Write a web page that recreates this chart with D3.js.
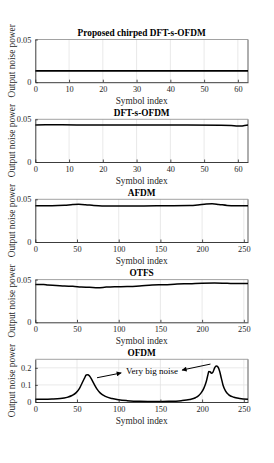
<!DOCTYPE html>
<html><head><meta charset="utf-8">
<script src="https://cdn.jsdelivr.net/npm/d3@7"></script>
<style>body{margin:0;background:#fff}svg{display:block}text{font-family:"Liberation Serif","Times New Roman",serif}</style>
</head><body>
<script>
const titles = ["Proposed chirped DFT-s-OFDM", "DFT-s-OFDM", "AFDM", "OTFS", "OFDM"];
const xMax = [63, 63, 255, 255, 255];
const yMax = [0.05, 0.05, 0.05, 0.05, 0.25];
const xTicks = [[0,10,20,30,40,50,60],[0,10,20,30,40,50,60],[0,50,100,150,200,250],[0,50,100,150,200,250],[0,50,100,150,200,250]];
const yTicks = [[0,0.05],[0,0.05],[0,0.05],[0,0.05],[0,0.1,0.2]];
const yTickLabels = [["0","0.05"],["0","0.05"],["0","0.05"],["0","0.05"],["0","0.1","0.2"]];

const chirpX = [0, 63];
const chirpY = [0.0132, 0.0132];
const dftX = [0, 3, 8, 15, 25, 35, 45, 55, 58, 60, 61, 62, 63];
const dftY = [0.0433, 0.0436, 0.0435, 0.0433, 0.0433, 0.0432, 0.0432, 0.0431, 0.0428, 0.0421, 0.0422, 0.0427, 0.0432];
const afdmX = [0, 20, 35, 45, 52, 60, 70, 80, 100, 130, 160, 185, 195, 205, 212, 220, 230, 240, 255];
const afdmY = [0.0425, 0.0425, 0.0430, 0.0438, 0.0441, 0.0437, 0.0427, 0.0422, 0.0422, 0.0423, 0.0424, 0.0426, 0.0433, 0.0445, 0.0448, 0.0440, 0.0428, 0.0424, 0.0424];
const otfsX = [0, 10, 15, 25, 35, 45, 55, 65, 75, 85, 95, 110, 125, 140, 155, 170, 185, 200, 215, 230, 245, 255];
const otfsY = [0.0444, 0.0443, 0.0436, 0.0432, 0.0424, 0.0422, 0.0413, 0.0410, 0.0405, 0.0412, 0.0416, 0.0418, 0.0425, 0.0436, 0.0440, 0.0448, 0.0452, 0.0458, 0.0460, 0.0456, 0.0453, 0.0455];
const ofdmX = [0, 10, 20, 30, 38, 44, 49, 53, 56, 59, 61, 63, 65, 68, 71, 74, 78, 84, 92, 100, 110, 125, 145, 160, 175, 185, 192, 196, 199, 202, 205, 207, 208, 210, 211, 213, 215, 217, 219, 221, 223, 225, 228, 232, 238, 245, 255];
const ofdmY = [0.016, 0.016, 0.017, 0.020, 0.027, 0.038, 0.055, 0.080, 0.110, 0.140, 0.158, 0.160, 0.152, 0.128, 0.100, 0.075, 0.052, 0.033, 0.020, 0.013, 0.008, 0.004, 0.003, 0.004, 0.008, 0.015, 0.025, 0.038, 0.055, 0.080, 0.120, 0.160, 0.178, 0.176, 0.168, 0.175, 0.200, 0.211, 0.205, 0.180, 0.140, 0.100, 0.065, 0.042, 0.028, 0.021, 0.016];
const seriesX = [chirpX, dftX, afdmX, otfsX, ofdmX];
const seriesY = [chirpY, dftY, afdmY, otfsY, ofdmY];

const W = 274, H = 463;
const left = 35.3, right = 248;
const tops = [39.5, 119.3, 199.3, 279.6, 359.3];
const ph = 42.7;

const svg = d3.select("body").append("svg").attr("width", W).attr("height", H);

titles.forEach((t, i) => {
  const top = tops[i], bottom = top + ph;
  const x = d3.scaleLinear().domain([0, xMax[i]]).range([left, right]);
  const y = d3.scaleLinear().domain([0, yMax[i]]).range([bottom, top]);
  const g = svg.append("g");
  // grid
  g.selectAll(".gx").data(xTicks[i].filter(v => v > 0)).join("line")
    .attr("x1", d => x(d)).attr("x2", d => x(d)).attr("y1", top).attr("y2", bottom)
    .attr("stroke", "#e3e3e3").attr("stroke-width", 0.8);
  g.selectAll(".gy").data(yTicks[i].filter(v => v > 0 && v < yMax[i])).join("line")
    .attr("x1", left).attr("x2", right).attr("y1", d => y(d)).attr("y2", d => y(d))
    .attr("stroke", "#e3e3e3").attr("stroke-width", 0.8);
  // box
  g.append("line").attr("x1", left).attr("x2", right).attr("y1", top).attr("y2", top).attr("stroke", "#8a8a8a").attr("stroke-width", 0.8);
  g.append("line").attr("x1", right).attr("x2", right).attr("y1", top).attr("y2", bottom).attr("stroke", "#9a9a9a").attr("stroke-width", 1.6);
  // data line
  const pts = seriesX[i].map((v, k) => [v, seriesY[i][k]]);
  g.append("path").datum(pts)
    .attr("d", d3.line().x(d => x(d[0])).y(d => y(d[1])).curve(d3.curveMonotoneX))
    .attr("fill", "none").attr("stroke", "#000").attr("stroke-width", i === 0 ? 1.8 : 1.5);
  // axes
  const ax = d3.axisBottom(x).tickValues(xTicks[i]).tickSize(-2.5).tickPadding(5).tickSizeOuter(0).tickFormat(d3.format("d"));
  const ga = g.append("g").attr("transform", `translate(0,${bottom})`).call(ax);
  const ay = d3.axisLeft(y).tickValues(yTicks[i]).tickSize(-2.5).tickPadding(4).tickSizeOuter(0).tickFormat((d, k) => yTickLabels[i][k]);
  const gy = g.append("g").attr("transform", `translate(${left},0)`).call(ay);
  [ga, gy].forEach(s => {
    s.select(".domain").attr("stroke", "#262626").attr("stroke-width", 0.9);
    s.selectAll(".tick line").attr("stroke", "#262626").attr("stroke-width", 0.8);
    s.selectAll("text").attr("font-family", "Liberation Serif").attr("font-size", 8.3).attr("fill", "#262626");
  });
  ga.selectAll("text").attr("dy", "0.55em");
  // title
  g.append("text").attr("x", (left + right) / 2).attr("y", top - 3.2).attr("text-anchor", "middle")
    .attr("font-size", 9.3).attr("font-weight", "bold").attr("fill", "#000").text(t);
  // x label
  g.append("text").attr("x", (left + right) / 2).attr("y", bottom + 21.5).attr("text-anchor", "middle")
    .attr("font-size", 9.3).attr("fill", "#262626").text("Symbol index");
  // y label
  g.append("text").attr("transform", `translate(15,${(top + bottom) / 2}) rotate(-90)`).attr("text-anchor", "middle")
    .attr("font-size", 9.3).attr("fill", "#262626").text("Output noise power");

  if (i === 4) {
    svg.append("defs").append("marker").attr("id", "ah").attr("viewBox", "0 0 10 10").attr("refX", 9).attr("refY", 5)
      .attr("markerWidth", 7).attr("markerHeight", 5).attr("orient", "auto").attr("markerUnits", "userSpaceOnUse")
      .append("path").attr("d", "M0,0 L10,5 L0,10 Z").attr("fill", "#000");
    g.append("text").attr("x", x(140)).attr("y", y(0.163)).attr("text-anchor", "middle")
      .attr("font-size", 9).attr("fill", "#000").text("Very big noise");
    g.append("line").attr("x1", x(74)).attr("y1", y(0.142)).attr("x2", x(103)).attr("y2", y(0.17))
      .attr("stroke", "#000").attr("stroke-width", 1).attr("marker-end", "url(#ah)");
    g.append("line").attr("x1", x(210)).attr("y1", y(0.222)).attr("x2", x(176)).attr("y2", y(0.187))
      .attr("stroke", "#000").attr("stroke-width", 1).attr("marker-end", "url(#ah)");
  }
});
</script>
</body></html>
